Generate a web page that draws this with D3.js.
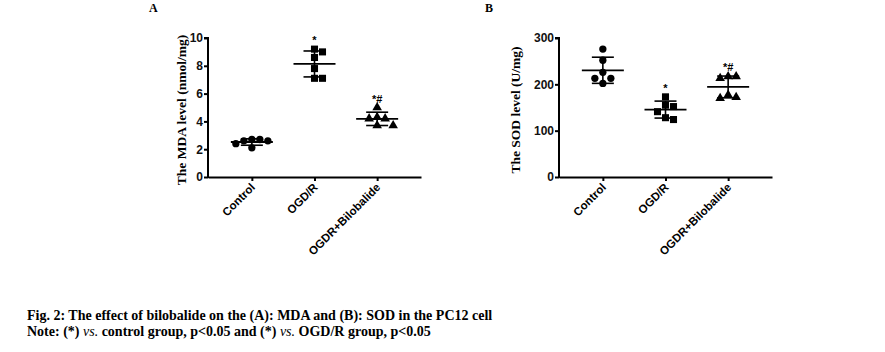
<!DOCTYPE html>
<html>
<head>
<meta charset="utf-8">
<script src="https://cdn.jsdelivr.net/npm/d3@7"></script>
<style>
  body { margin: 0; background: #fff; }
  svg { display: block; }
</style>
</head>
<body>
<div id="chart"></div>
<script>
// groups along the x axis
const categories = ["Control", "OGD/R", "OGDR+Bilobalide"];
const symbols = ["circle", "square", "triangle"];

// MDA values (nmol/mg), one array per group
const mdaControl = [2.7, 2.7, 2.6, 2.6, 2.4, 2.1];
const mdaOGDR = [9.2, 9.0, 8.6, 7.8, 7.1, 7.1];
const mdaBilo = [5.0, 4.3, 4.2, 4.2, 3.7, 3.7];
const mdaTicks = [0, 2, 4, 6, 8, 10];
const mdaMarks = ["", "*", "*#"];

// SOD values (U/mg)
const sodControl = [276, 252, 226, 213, 213, 202];
const sodOGDR = [173, 155, 152, 141, 128, 124];
const sodBilo = [217, 217, 213, 177, 172, 170];
const sodTicks = [0, 100, 200, 300];
const sodMarks = ["", "*", "*#"];

const W = 885, H = 352;
const svg = d3.select("#chart").append("svg")
  .attr("width", W)
  .attr("height", H);

function drawPanel(opt) {
  const g = svg.append("g");

  const y = d3.scaleLinear().domain(opt.domain).range([177, 38]);
  const x = d3.scalePoint().domain(categories)
    .range([opt.left, opt.left + 213]).padding(0.7);

  // panel letter
  g.append("text")
    .attr("x", opt.letterX).attr("y", 12)
    .style("font-family", "'Liberation Serif', serif")
    .style("font-weight", "bold").style("font-size", "12px")
    .text(opt.letter);

  // y axis
  const yAxis = g.append("g")
    .attr("transform", `translate(${opt.left},0)`)
    .call(d3.axisLeft(y).tickValues(opt.ticks).tickSize(4).tickPadding(1));
  // x axis
  const xAxis = g.append("g")
    .attr("transform", "translate(0,177)")
    .call(d3.axisBottom(x).tickSize(4).tickSizeOuter(0).tickFormat(""));

  [yAxis, xAxis].forEach(a => {
    a.select(".domain").attr("stroke", "#000").attr("stroke-width", 2);
    a.selectAll(".tick line").attr("stroke", "#000").attr("stroke-width", 2);
  });
  yAxis.select(".domain").attr("d", `M-4,${y(opt.domain[1])}H0V${y(0) + 1}`);
  yAxis.selectAll(".tick text")
    .style("font-family", "'Liberation Sans', Arial, sans-serif")
    .style("font-weight", "bold").style("font-size", "12px").attr("fill", "#111");

  // rotated category labels
  g.selectAll(".xlab")
    .data(categories)
    .enter().append("text")
    .attr("class", "xlab")
    .attr("transform", d => `translate(${x(d) + 4},${188}) rotate(-45)`)
    .attr("text-anchor", "end")
    .style("font-family", "'Liberation Sans', Arial, sans-serif")
    .style("font-weight", "bold").style("font-size", "11.5px")
    .text(d => d);

  // y title
  g.append("text")
    .attr("transform", `translate(${opt.titleX},110) rotate(-90)`)
    .attr("text-anchor", "middle")
    .style("font-family", "'Liberation Serif', serif")
    .style("font-weight", "bold").style("font-size", "13.5px")
    .text(opt.title);

  opt.groups.forEach((vals, i) => {
    const cx = x(categories[i]);
    const m = d3.mean(vals), sd = d3.deviation(vals);

    // simple beeswarm so points don't sit on each other
    const placed = [];
    const size = 7.5;
    vals.slice().sort((a, b) => b - a).forEach(v => {
      const py = y(v);
      let off = 0;
      for (let k = 0; k < 20; k++) {
        const cand = k === 0 ? 0 : (k % 2 ? 1 : -1) * Math.ceil(k / 2) * 8;
        if (placed.every(p => Math.hypot(p.x - (cx + cand), p.y - py) >= size)) { off = cand; break; }
      }
      placed.push({ x: cx + off, y: py });
    });

    const sym = {
      circle: d3.symbolCircle, square: d3.symbolSquare, triangle: d3.symbolTriangle
    }[symbols[i]];
    const area = symbols[i] === "circle" ? 42 : symbols[i] === "square" ? 50 : 40;

    g.selectAll(null).data(placed).enter().append("path")
      .attr("d", d3.symbol().type(sym).size(area))
      .attr("transform", d => `translate(${d.x},${d.y})`)
      .attr("fill", "#000");

    // mean line and SD bars
    g.append("line")
      .attr("x1", cx - 21).attr("x2", cx + 21)
      .attr("y1", y(m)).attr("y2", y(m))
      .attr("stroke", "#000").attr("stroke-width", 1.8);
    g.append("line")
      .attr("x1", cx).attr("x2", cx)
      .attr("y1", y(m + sd)).attr("y2", y(m - sd))
      .attr("stroke", "#000").attr("stroke-width", 1.6);
    [m + sd, m - sd].forEach(v => {
      g.append("line")
        .attr("x1", cx - 11).attr("x2", cx + 11)
        .attr("y1", y(v)).attr("y2", y(v))
        .attr("stroke", "#000").attr("stroke-width", 1.6);
    });

    // significance marks
    if (opt.marks[i]) {
      const top = Math.max(d3.max(vals), m + sd);
      g.append("text")
        .attr("x", cx).attr("y", y(top) - 5)
        .attr("text-anchor", "middle")
        .style("font-family", "'Liberation Sans', Arial, sans-serif")
        .style("font-weight", "bold").style("font-size", "11px")
        .text(opt.marks[i]);
    }
  });
}

drawPanel({
  letter: "A", letterX: 149, left: 208, titleX: 186,
  domain: [0, 10], ticks: mdaTicks, title: "The MDA level (nmol/mg)",
  groups: [mdaControl, mdaOGDR, mdaBilo], marks: mdaMarks
});
drawPanel({
  letter: "B", letterX: 485, left: 559, titleX: 520,
  domain: [0, 300], ticks: sodTicks, title: "The SOD level (U/mg)",
  groups: [sodControl, sodOGDR, sodBilo], marks: sodMarks
});

// figure caption
const cap = svg.append("text")
  .attr("x", 27).attr("y", 320)
  .style("font-family", "'Liberation Serif', serif")
  .style("font-weight", "bold").style("font-size", "14px")
  .text("Fig. 2: The effect of bilobalide on the (A): MDA and (B): SOD in the PC12 cell");

const note = svg.append("text")
  .attr("x", 27).attr("y", 336)
  .style("font-family", "'Liberation Serif', serif")
  .style("font-weight", "bold").style("font-size", "14px");
note.append("tspan").text("Note: (*) ");
note.append("tspan").style("font-style", "italic").style("font-weight", "normal").text("vs.");
note.append("tspan").text(" control group, p<0.05 and (*) ");
note.append("tspan").style("font-style", "italic").style("font-weight", "normal").text("vs.");
note.append("tspan").text(" OGD/R group, p<0.05");
</script>
</body>
</html>
